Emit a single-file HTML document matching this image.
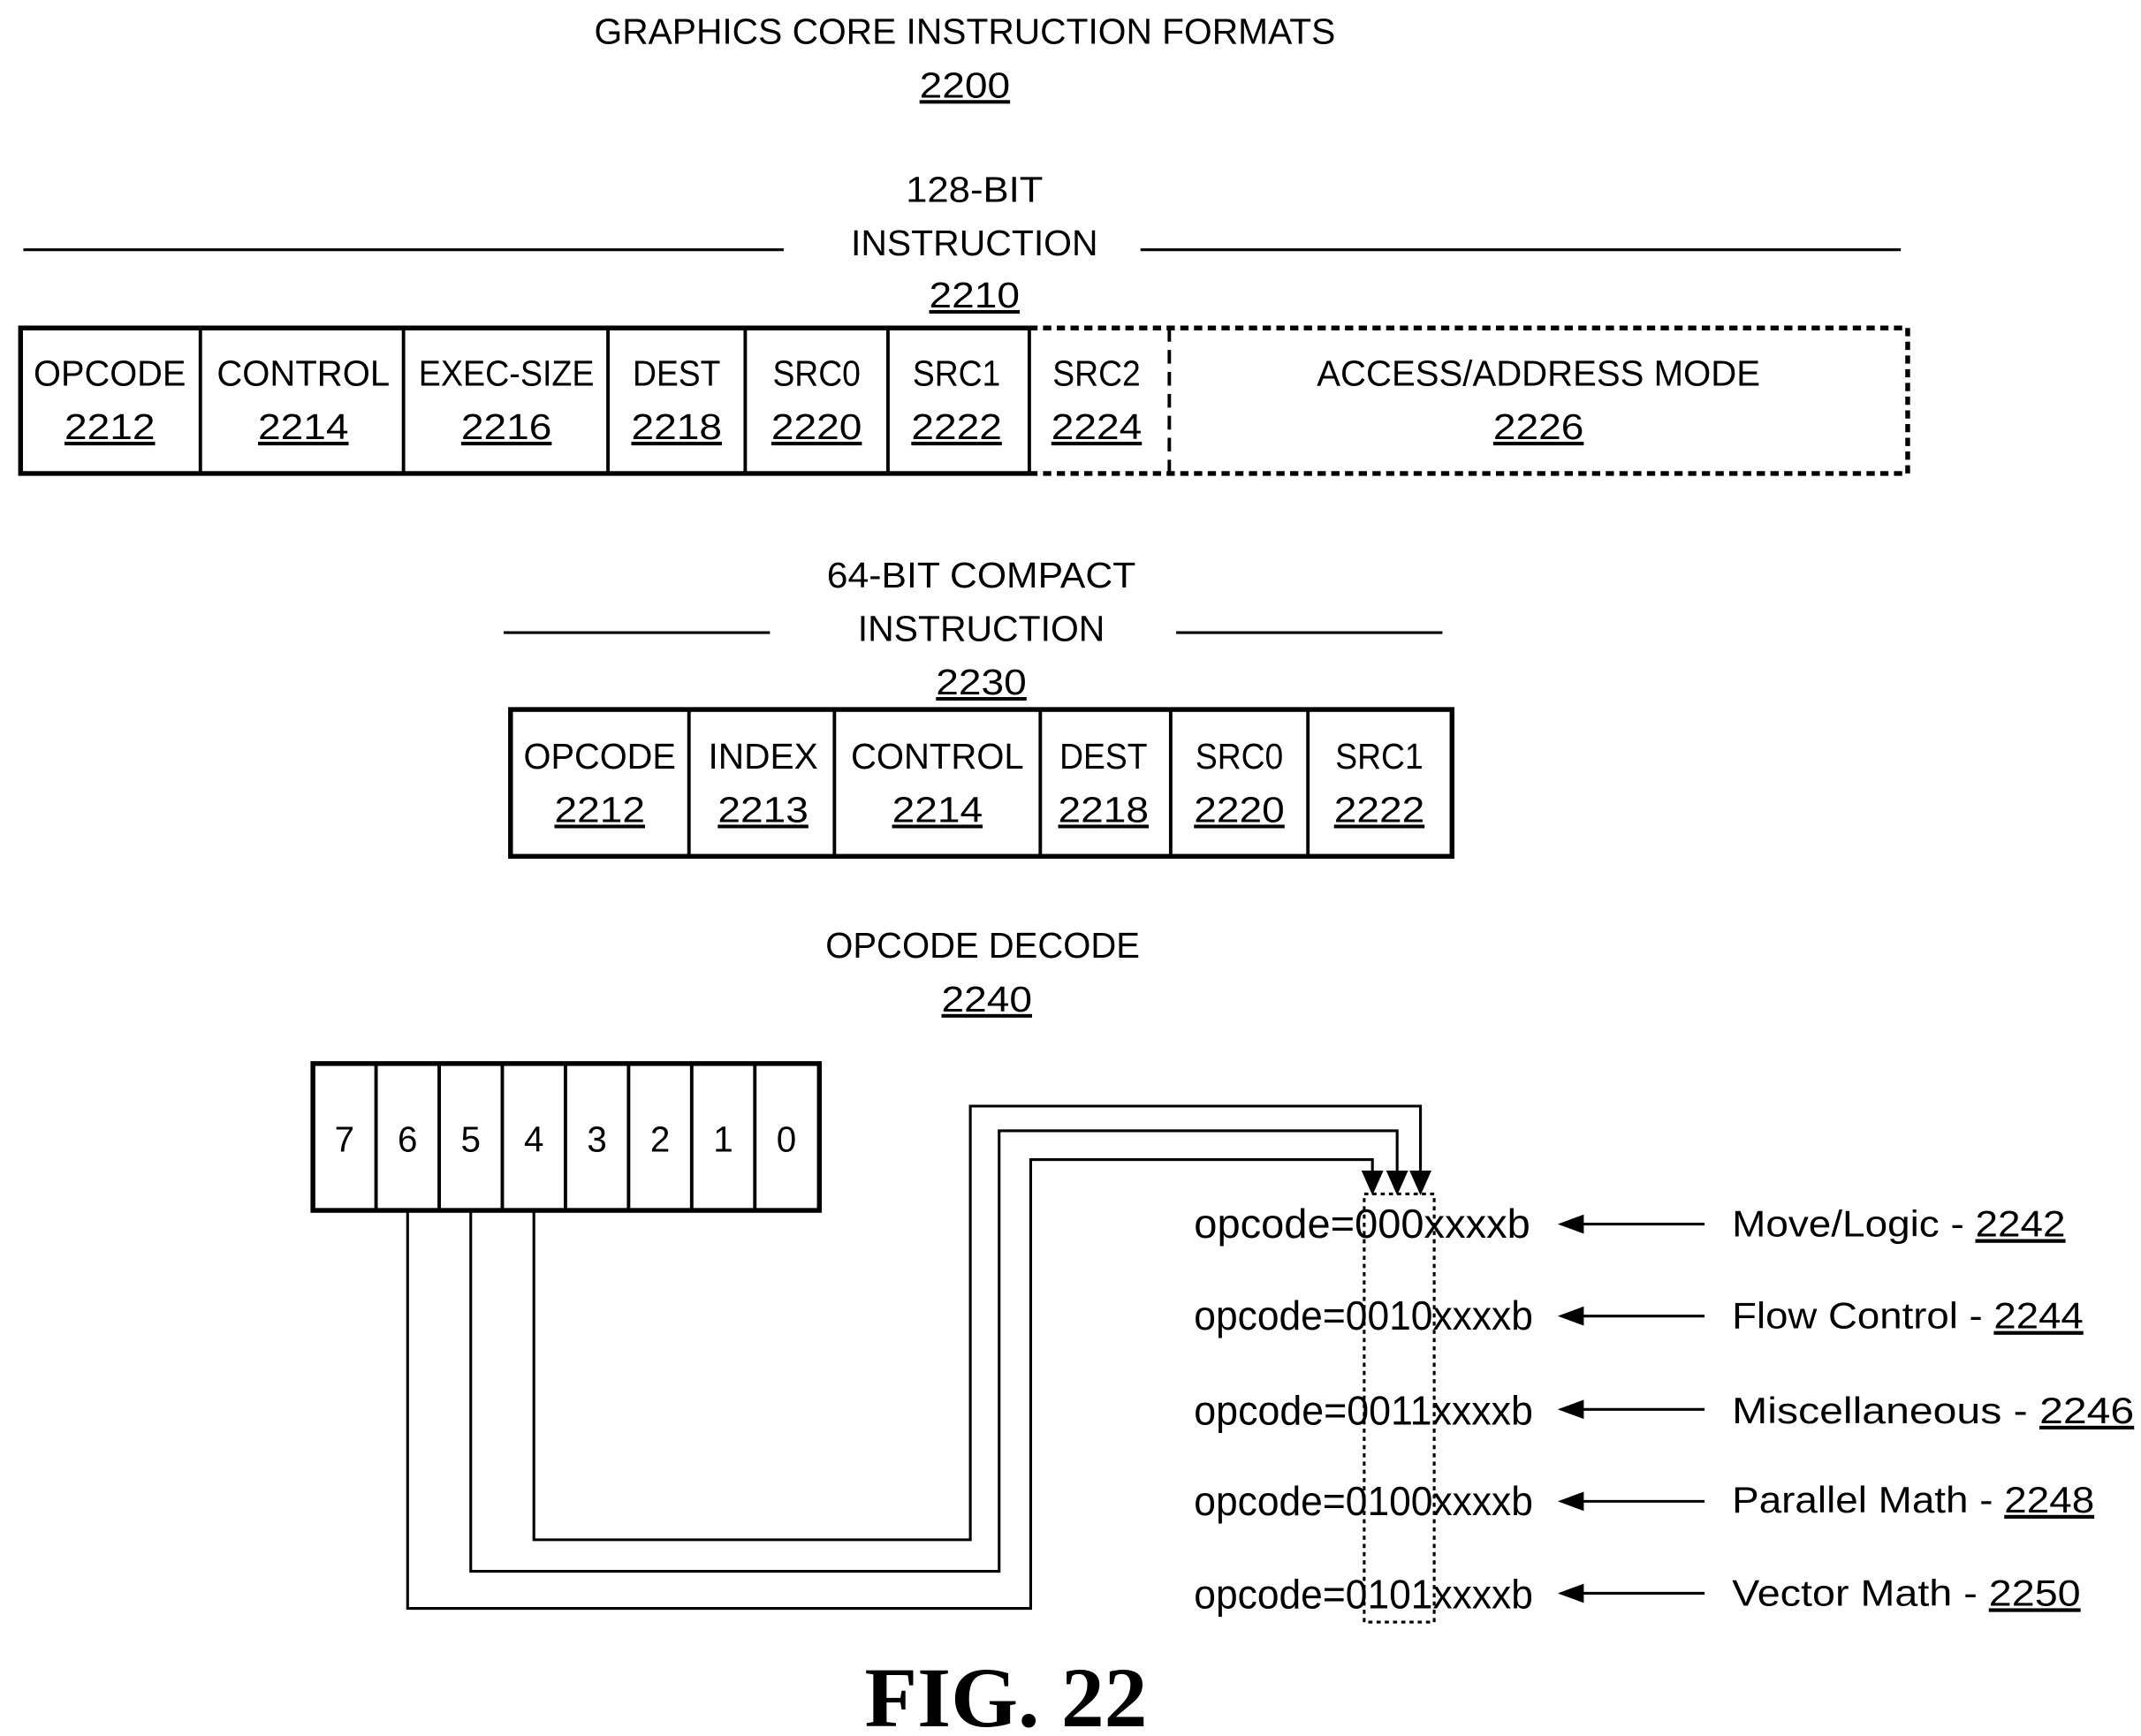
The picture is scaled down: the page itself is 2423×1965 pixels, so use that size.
<!DOCTYPE html>
<html><head><meta charset="utf-8"><style>
html,body{margin:0;padding:0;background:#fff;}
svg{display:block;}
text{font-family:"Liberation Sans",sans-serif;fill:#000;}
.t{font-size:26px;text-anchor:middle;}
.u{text-decoration:underline;}
.o{font-size:30px;}
</style></head><body>
<svg width="2423" height="1965" viewBox="0 0 1560 1265" preserveAspectRatio="none" xmlns="http://www.w3.org/2000/svg">
<text class="t" x="703" y="32" textLength="540" lengthAdjust="spacingAndGlyphs">GRAPHICS CORE INSTRUCTION FORMATS</text>
<text class="t u" x="703" y="71" textLength="66" lengthAdjust="spacingAndGlyphs">2200</text>

<text class="t" x="710" y="147" textLength="100" lengthAdjust="spacingAndGlyphs">128-BIT</text>
<text class="t" x="710" y="186" textLength="180" lengthAdjust="spacingAndGlyphs">INSTRUCTION</text>
<text class="t u" x="710" y="224" textLength="66" lengthAdjust="spacingAndGlyphs">2210</text>
<line x1="17" y1="182" x2="571" y2="182" stroke="#000" stroke-width="2"/>
<line x1="831" y1="182" x2="1385" y2="182" stroke="#000" stroke-width="2"/>
<g stroke="#000" fill="none">
<path d="M750 239 H15 V345 H750" stroke-width="3.5"/>
<path d="M750 239 H1390 V345 H750" stroke-width="3.5" stroke-dasharray="6,4"/>
<g stroke-width="2.5">
<line x1="146" y1="239" x2="146" y2="345"/>
<line x1="294" y1="239" x2="294" y2="345"/>
<line x1="443" y1="239" x2="443" y2="345"/>
<line x1="543" y1="239" x2="543" y2="345"/>
<line x1="647" y1="239" x2="647" y2="345"/>
<line x1="750" y1="239" x2="750" y2="345"/>
<line x1="852" y1="239" x2="852" y2="345" stroke-dasharray="10,6"/>
</g></g>
<text class="t" x="80" y="281" textLength="111" lengthAdjust="spacingAndGlyphs">OPCODE</text>
<text class="t u" x="80" y="320" textLength="66" lengthAdjust="spacingAndGlyphs">2212</text>
<text class="t" x="221" y="281" textLength="126" lengthAdjust="spacingAndGlyphs">CONTROL</text>
<text class="t u" x="221" y="320" textLength="66" lengthAdjust="spacingAndGlyphs">2214</text>
<text class="t" x="369" y="281" textLength="128" lengthAdjust="spacingAndGlyphs">EXEC-SIZE</text>
<text class="t u" x="369" y="320" textLength="66" lengthAdjust="spacingAndGlyphs">2216</text>
<text class="t" x="493" y="281" textLength="64" lengthAdjust="spacingAndGlyphs">DEST</text>
<text class="t u" x="493" y="320" textLength="66" lengthAdjust="spacingAndGlyphs">2218</text>
<text class="t" x="595" y="281" textLength="64" lengthAdjust="spacingAndGlyphs">SRC0</text>
<text class="t u" x="595" y="320" textLength="66" lengthAdjust="spacingAndGlyphs">2220</text>
<text class="t" x="697" y="281" textLength="64" lengthAdjust="spacingAndGlyphs">SRC1</text>
<text class="t u" x="697" y="320" textLength="66" lengthAdjust="spacingAndGlyphs">2222</text>
<text class="t" x="799" y="281" textLength="64" lengthAdjust="spacingAndGlyphs">SRC2</text>
<text class="t u" x="799" y="320" textLength="66" lengthAdjust="spacingAndGlyphs">2224</text>
<text class="t" x="1121" y="281" textLength="323" lengthAdjust="spacingAndGlyphs">ACCESS/ADDRESS MODE</text>
<text class="t u" x="1121" y="320" textLength="66" lengthAdjust="spacingAndGlyphs">2226</text>

<text class="t" x="715" y="428" textLength="225" lengthAdjust="spacingAndGlyphs">64-BIT COMPACT</text>
<text class="t" x="715" y="467" textLength="180" lengthAdjust="spacingAndGlyphs">INSTRUCTION</text>
<text class="t u" x="715" y="506" textLength="66" lengthAdjust="spacingAndGlyphs">2230</text>
<line x1="367" y1="461" x2="561" y2="461" stroke="#000" stroke-width="2"/>
<line x1="857" y1="461" x2="1051" y2="461" stroke="#000" stroke-width="2"/>
<rect x="372" y="517" width="686" height="107" fill="none" stroke="#000" stroke-width="3.5"/>
<g stroke="#000" stroke-width="2.5">
<line x1="502" y1="517" x2="502" y2="624"/>
<line x1="608" y1="517" x2="608" y2="624"/>
<line x1="758" y1="517" x2="758" y2="624"/>
<line x1="853" y1="517" x2="853" y2="624"/>
<line x1="953" y1="517" x2="953" y2="624"/>
</g>
<text class="t" x="437" y="560" textLength="111" lengthAdjust="spacingAndGlyphs">OPCODE</text>
<text class="t u" x="437" y="599" textLength="66" lengthAdjust="spacingAndGlyphs">2212</text>
<text class="t" x="556" y="560" textLength="80" lengthAdjust="spacingAndGlyphs">INDEX</text>
<text class="t u" x="556" y="599" textLength="66" lengthAdjust="spacingAndGlyphs">2213</text>
<text class="t" x="683" y="560" textLength="126" lengthAdjust="spacingAndGlyphs">CONTROL</text>
<text class="t u" x="683" y="599" textLength="66" lengthAdjust="spacingAndGlyphs">2214</text>
<text class="t" x="804" y="560" textLength="64" lengthAdjust="spacingAndGlyphs">DEST</text>
<text class="t u" x="804" y="599" textLength="66" lengthAdjust="spacingAndGlyphs">2218</text>
<text class="t" x="903" y="560" textLength="64" lengthAdjust="spacingAndGlyphs">SRC0</text>
<text class="t u" x="903" y="599" textLength="66" lengthAdjust="spacingAndGlyphs">2220</text>
<text class="t" x="1005" y="560" textLength="64" lengthAdjust="spacingAndGlyphs">SRC1</text>
<text class="t u" x="1005" y="599" textLength="66" lengthAdjust="spacingAndGlyphs">2222</text>

<text class="t" x="716" y="698" textLength="229" lengthAdjust="spacingAndGlyphs">OPCODE DECODE</text>
<text class="t u" x="719" y="737" textLength="66" lengthAdjust="spacingAndGlyphs">2240</text>
<rect x="228" y="775" width="369" height="107" fill="none" stroke="#000" stroke-width="3.5"/>
<g stroke="#000" stroke-width="2.5">
<line x1="274" y1="775" x2="274" y2="882"/>
<line x1="320" y1="775" x2="320" y2="882"/>
<line x1="366" y1="775" x2="366" y2="882"/>
<line x1="412" y1="775" x2="412" y2="882"/>
<line x1="458" y1="775" x2="458" y2="882"/>
<line x1="504" y1="775" x2="504" y2="882"/>
<line x1="550" y1="775" x2="550" y2="882"/>
</g>
<text class="t" x="251" y="839">7</text>
<text class="t" x="297" y="839">6</text>
<text class="t" x="343" y="839">5</text>
<text class="t" x="389" y="839">4</text>
<text class="t" x="435" y="839">3</text>
<text class="t" x="481" y="839">2</text>
<text class="t" x="527" y="839">1</text>
<text class="t" x="573" y="839">0</text>
<g stroke="#000" stroke-width="2" fill="none">
<path d="M297 882 V1172 H751 V845 H1000 V856"/>
<path d="M343 882 V1145 H728 V824 H1018 V856"/>
<path d="M389 882 V1122 H707 V806 H1035 V856"/>
</g>
<g fill="#000">
<polygon points="992,853 1008,853 1000,871"/>
<polygon points="1010,853 1026,853 1018,871"/>
<polygon points="1027,853 1043,853 1035,871"/>
</g>
<rect x="994" y="870" width="51" height="312" fill="none" stroke="#000" stroke-width="2" stroke-dasharray="3,3"/>
<text class="o" x="870" y="902" textLength="245" lengthAdjust="spacingAndGlyphs">opcode=000xxxxb</text>
<text class="o" x="870" y="969" textLength="247" lengthAdjust="spacingAndGlyphs">opcode=0010xxxxb</text>
<text class="o" x="870" y="1038" textLength="247" lengthAdjust="spacingAndGlyphs">opcode=0011xxxxb</text>
<text class="o" x="870" y="1104" textLength="247" lengthAdjust="spacingAndGlyphs">opcode=0100xxxxb</text>
<text class="o" x="870" y="1172" textLength="247" lengthAdjust="spacingAndGlyphs">opcode=0101xxxxb</text>
<g stroke="#000" stroke-width="2">
<line x1="1150" y1="892" x2="1242" y2="892"/>
<line x1="1150" y1="959" x2="1242" y2="959"/>
<line x1="1150" y1="1027" x2="1242" y2="1027"/>
<line x1="1150" y1="1094" x2="1242" y2="1094"/>
<line x1="1150" y1="1161" x2="1242" y2="1161"/>
</g>
<g fill="#000">
<polygon points="1135,892 1154,885 1154,899"/>
<polygon points="1135,959 1154,952 1154,966"/>
<polygon points="1135,1027 1154,1020 1154,1034"/>
<polygon points="1135,1094 1154,1087 1154,1101"/>
<polygon points="1135,1161 1154,1154 1154,1168"/>
</g>
<text x="1262" y="901" style="font-size:27px" textLength="243" lengthAdjust="spacingAndGlyphs">Move/Logic - <tspan class="u">2242</tspan></text>
<text x="1262" y="968" style="font-size:27px" textLength="256" lengthAdjust="spacingAndGlyphs">Flow Control - <tspan class="u">2244</tspan></text>
<text x="1262" y="1037" style="font-size:27px" textLength="293" lengthAdjust="spacingAndGlyphs">Miscellaneous - <tspan class="u">2246</tspan></text>
<text x="1262" y="1102" style="font-size:27px" textLength="264" lengthAdjust="spacingAndGlyphs">Parallel Math - <tspan class="u">2248</tspan></text>
<text x="1262" y="1170" style="font-size:27px" textLength="254" lengthAdjust="spacingAndGlyphs">Vector Math - <tspan class="u">2250</tspan></text>

<text x="733" y="1258" text-anchor="middle" textLength="206" lengthAdjust="spacingAndGlyphs" style="font-family:'Liberation Serif',serif;font-weight:bold;font-size:62px">FIG. 22</text>
</svg>
</body></html>
